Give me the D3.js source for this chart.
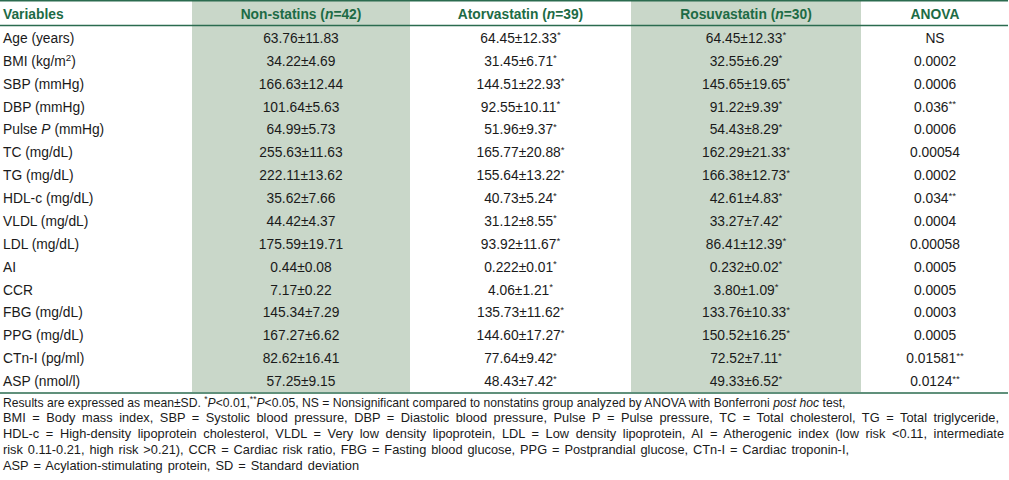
<!DOCTYPE html>
<html><head><meta charset="utf-8">
<script src="https://cdn.jsdelivr.net/npm/d3@7"></script>
<style>
html,body{margin:0;padding:0;background:#fff;}
svg{display:block;font-family:"Liberation Sans",Arial,Helvetica,sans-serif;}
</style></head>
<body>
<script>
// ---- data ----
const headers = [
  [{t:"Variables"}],
  [{t:"Non-statins ("},{t:"n",i:1},{t:"=42)"}],
  [{t:"Atorvastatin ("},{t:"n",i:1},{t:"=39)"}],
  [{t:"Rosuvastatin ("},{t:"n",i:1},{t:"=30)"}],
  [{t:"ANOVA"}]
];
const variables = [
  [{t:"Age (years)"}],
  [{t:"BMI (kg/m"},{t:"2",s:1},{t:")"}],
  [{t:"SBP (mmHg)"}],
  [{t:"DBP (mmHg)"}],
  [{t:"Pulse "},{t:"P",i:1},{t:" (mmHg)"}],
  [{t:"TC (mg/dL)"}],
  [{t:"TG (mg/dL)"}],
  [{t:"HDL-c (mg/dL)"}],
  [{t:"VLDL (mg/dL)"}],
  [{t:"LDL (mg/dL)"}],
  [{t:"AI"}],
  [{t:"CCR"}],
  [{t:"FBG (mg/dL)"}],
  [{t:"PPG (mg/dL)"}],
  [{t:"CTn-I (pg/ml)"}],
  [{t:"ASP (nmol/l)"}]
];
const nonStatins = ["63.76±11.83","34.22±4.69","166.63±12.44","101.64±5.63","64.99±5.73","255.63±11.63","222.11±13.62","35.62±7.66","44.42±4.37","175.59±19.71","0.44±0.08","7.17±0.22","145.34±7.29","167.27±6.62","82.62±16.41","57.25±9.15"];
const atorvastatin = ["64.45±12.33","31.45±6.71","144.51±22.93","92.55±10.11","51.96±9.37","165.77±20.88","155.64±13.22","40.73±5.24","31.12±8.55","93.92±11.67","0.222±0.01","4.06±1.21","135.73±11.62","144.60±17.27","77.64±9.42","48.43±7.42"];
const atorvaMark = ["*","*","*","*","*","*","*","*","*","*","*","*","*","*","*","*"];
const rosuvastatin = ["64.45±12.33","32.55±6.29","145.65±19.65","91.22±9.39","54.43±8.29","162.29±21.33","166.38±12.73","42.61±4.83","33.27±7.42","86.41±12.39","0.232±0.02","3.80±1.09","133.76±10.33","150.52±16.25","72.52±7.11","49.33±6.52"];
const rosuvaMark = ["*","*","*","*","*","*","*","*","*","*","*","*","*","*","*","*"];
const anova = ["NS","0.0002","0.0006","0.036","0.0006","0.00054","0.0002","0.034","0.0004","0.00058","0.0005","0.0005","0.0003","0.0005","0.01581","0.0124"];
const anovaMark = ["","","","**","","","","**","","","","","","","**","**"];
const footnotes = [
  [{t:"Results are expressed as mean±SD. "},{t:"*",s:1},{t:"P",i:1},{t:"<0.01,"},{t:"**",s:1},{t:"P",i:1},{t:"<0.05, NS = Nonsignificant compared to nonstatins group analyzed by ANOVA with Bonferroni "},{t:"post hoc",i:1},{t:" test,"}],
  [{t:"BMI = Body mass index, SBP = Systolic blood pressure, DBP = Diastolic blood pressure, Pulse P = Pulse pressure, TC = Total cholesterol, TG = Total triglyceride,"}],
  [{t:"HDL-c = High-density lipoprotein cholesterol, VLDL = Very low density lipoprotein, LDL = Low density lipoprotein, AI = Atherogenic index (low risk <0.11, intermediate"}],
  [{t:"risk 0.11-0.21, high risk >0.21), CCR = Cardiac risk ratio, FBG = Fasting blood glucose, PPG = Postprandial glucose, CTn-I = Cardiac troponin-I,"}],
  [{t:"ASP = Acylation-stimulating protein, SD = Standard deviation"}]
];

// ---- layout ----
const W = 1009, H = 480;
const colEdges = [0, 192, 410, 631, 861, 1009];
const shaded = [false, true, false, true, false];
const footWidths = [843, 996, 1001, 846, 356];
const green = "#1d6b45", lineCol = "#2b6b4f", shade = "#c9d7c9", txt = "#1a1a1a";
const fs = 13.8;

const svg = d3.select("body").append("svg").attr("width", W).attr("height", H);

const headerH = 23;
const yData = d3.scaleBand().domain(d3.range(variables.length)).range([2 + headerH + 1.5, 392.5]);

// shaded columns
colEdges.slice(0, -1).forEach((x0, c) => {
  if (shaded[c]) svg.append("rect").attr("x", x0).attr("y", 1).attr("width", colEdges[c+1] - x0).attr("height", 392 - 1).attr("fill", shade);
});

// rules
function hline(yy, w) { svg.append("line").attr("x1", 0).attr("x2", 1008).attr("y1", yy).attr("y2", yy).attr("stroke", lineCol).attr("stroke-width", w); }
hline(0.75, 1.5);
hline(2 + headerH + 0.5, 1.5);
hline(393, 1.5);

function addRuns(textSel, runs, size) {
  let reset = false;
  runs.forEach(r => {
    const ts = textSel.append("tspan").text(r.t);
    if (r.i) ts.attr("font-style", "italic");
    if (r.s) { ts.attr("font-size", size * 0.7).attr("dy", reset ? 0 : -4.5); reset = true; }
    else if (reset) { ts.attr("dy", 4.5); reset = false; }
  });
}

const colCenter = c => (colEdges[c] + colEdges[c+1]) / 2;

// header
headers.forEach((runs, c) => {
  const t = svg.append("text")
    .attr("x", c === 0 ? 3 : colCenter(c))
    .attr("y", 2 + headerH / 2 + 5)
    .attr("text-anchor", c === 0 ? "start" : "middle")
    .attr("font-weight", "bold").attr("font-size", fs).attr("fill", green);
  addRuns(t, runs, fs);
});

// data rows
const cols = [
  variables.map(v => v),
  nonStatins.map(v => [{t:v}]),
  atorvastatin.map((v, i) => [{t:v},{t:atorvaMark[i],s:1}]),
  rosuvastatin.map((v, i) => [{t:v},{t:rosuvaMark[i],s:1}]),
  anova.map((v, i) => anovaMark[i] ? [{t:v},{t:anovaMark[i],s:1}] : [{t:v}])
];
cols.forEach((col, c) => {
  col.forEach((runs, r) => {
    const t = svg.append("text")
      .attr("x", c === 0 ? 3 : colCenter(c))
      .attr("y", yData(r) + yData.bandwidth() / 2 + 5)
      .attr("text-anchor", c === 0 ? "start" : "middle")
      .attr("font-size", fs).attr("fill", txt);
    addRuns(t, runs, fs);
  });
});

// footnotes (justified by word spacing, like the reference)
const ffs = 12.8;
const fy = d3.scaleLinear().domain([0, 4]).range([406.5, 470]);
footnotes.forEach((runs, i) => {
  const t = svg.append("text").attr("x", 3).attr("y", fy(i))
    .attr("font-size", ffs).attr("fill", txt);
  addRuns(t, runs, ffs);
  const natural = t.node().getComputedTextLength();
  const target = footWidths[i];
  if (natural > target) {
    const f2 = ffs * target / natural;
    t.selectAll("*").remove();
    t.attr("font-size", f2);
    addRuns(t, runs, f2);
  } else {
    const spaces = runs.map(r => r.t).join("").split(" ").length - 1;
    t.attr("word-spacing", (target - natural) / spaces);
  }
});
</script>
</body></html>
